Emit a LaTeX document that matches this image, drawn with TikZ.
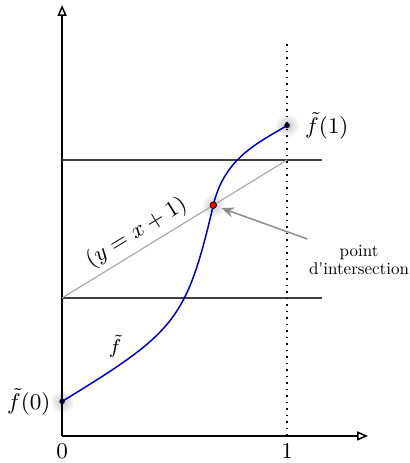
\documentclass[tikz,border=0pt]{standalone}
\usetikzlibrary{arrows.meta,calc}
\begin{document}
\begin{tikzpicture}[x=90pt,y=55.2pt,
  font=\fontsize{9}{11}\selectfont,
  axisline/.style={line width=0.6pt,-{Triangle[open,length=4.4pt,width=3.6pt]}},
  level/.style={line width=0.6pt,black!75},
  curve/.style={line width=0.6pt,blue!80!black},
  glow/.style={inner color=black!22,outer color=white},
  dotpt/.style={circle,fill=black!85!blue,inner sep=0pt,minimum size=2.2pt},
  ipt/.style={circle,fill=red,draw=black,line width=0.3pt,inner sep=0pt,minimum size=2.6pt},
  lab/.style={inner sep=0pt}]
\useasboundingbox (-0.276,-0.196) rectangle (1.542,3.159);
% coordinates
\coordinate (O) at (0,0);
\coordinate (F0) at (0,0.25);
\coordinate (F1) at (1,2.25);
\coordinate (I) at (0.672,1.672);
% glows
\shade[glow] (F0) circle (5pt);
\shade[glow] (F1) circle (5pt);
\shade[glow] (I) circle (5pt);
% axes
\coordinate (XE) at (1.36,0);
\coordinate (YE) at (0,3.123);
\draw[axisline] (O) -- (XE);
\draw[axisline] (O) -- (YE);
% horizontal levels
\coordinate (L1a) at (0,1); \coordinate (L1b) at (1.156,1);
\coordinate (L2a) at (0,2); \coordinate (L2b) at (1.156,2);
\draw[level] (L1a) -- (L1b);
\draw[level] (L2a) -- (L2b);
% dotted vertical
\coordinate (V0) at (1,0); \coordinate (V1) at (1,2.855);
\draw[line width=0.6pt,dotted] (V0) -- (V1);
% line y=x+1
\coordinate (D0) at (0,1); \coordinate (D1) at (1,2);
\draw[black!35,line width=0.45pt] (D0) -- node[pos=0.37,above=2pt,sloped,black,lab] {$(y=x+1)$} (D1);
% curve
\coordinate (C1) at (0.5,0.75);
\coordinate (C2) at (0.552,0.832);
\coordinate (C3) at (0.722,2.022);
\coordinate (C4) at (0.88,2.13);
\draw[curve] (F0) .. controls (C1) and (C2) .. (I) .. controls (C3) and (C4) .. (F1);
% points
\node[dotpt] (P0) at (F0) {};
\node[dotpt] (P1) at (F1) {};
\node[ipt] (PI) at (I) {};
% labels
\node[lab,anchor=east,xshift=-4.5pt] (T0) at (F0) {$\tilde f(0)$};
\node[lab,anchor=west,xshift=7pt] (T1) at (F1) {$\tilde f(1)$};
\node[lab,anchor=north,yshift=-3pt] (X0) at (O) {$0$};
\node[lab,anchor=north,yshift=-3pt] (X1) at (V0) {$1$};
\node[lab,font=\footnotesize] (TF) at (0.236,0.65) {$\tilde f$};
\node[lab,align=center,scale=0.68,font=\fontsize{10}{10.6}\selectfont] (PT) at (1.32,1.275) {point\\d\textquotesingle intersection};
\coordinate (AS) at (1.09,1.427);
\draw[black!45,line width=0.6pt,-{Stealth[length=5pt,width=4pt]},shorten >=2pt] (AS) -- (PI);
\end{tikzpicture}
\end{document}
